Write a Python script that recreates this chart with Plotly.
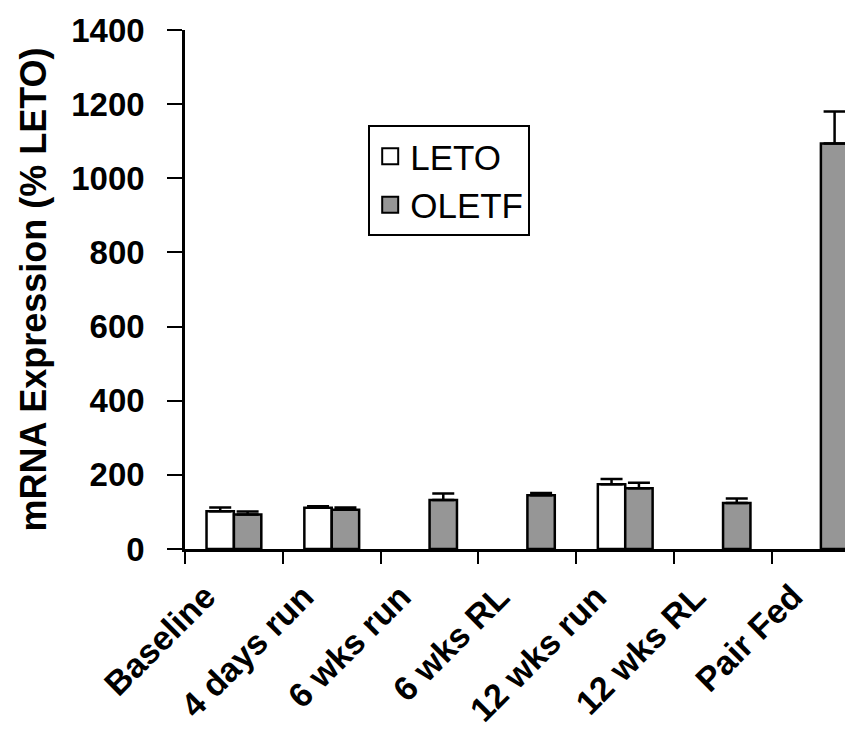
import plotly.graph_objects as go

categories = ["Baseline", "4 days run", "6 wks run", "6 wks RL", "12 wks run", "12 wks RL", "Pair Fed"]
leto_values = [102, 111, None, None, 175, None, None]
leto_errors = [10, 4, 0, 0, 14, 0, 0]
oletf_values = [93, 106, 132, 145, 164, 124, 1094]
oletf_errors = [8, 6, 18, 6, 15, 12, 86]
y_ticks = [0, 200, 400, 600, 800, 1000, 1200, 1400]

FAM = "Liberation Sans, Arial, sans-serif"
tick_font = dict(family=FAM, size=33, color="black", weight="bold")
xlab_font = dict(family=FAM, size=34, color="black", weight="bold")

fig = go.Figure()
fig.add_trace(go.Bar(
    x=categories, y=leto_values, name="LETO", showlegend=False,
    marker=dict(color="white", line=dict(color="black", width=2.5)),
    error_y=dict(type="data", symmetric=False, array=leto_errors,
                 arrayminus=[0] * len(leto_errors), color="black", thickness=2.5, width=11),
))
fig.add_trace(go.Bar(
    x=categories, y=oletf_values, name="OLETF", showlegend=False,
    marker=dict(color="#969696", line=dict(color="black", width=2.5)),
    error_y=dict(type="data", symmetric=False, array=oletf_errors,
                 arrayminus=[0] * len(oletf_errors), color="black", thickness=2.5, width=11),
))
# legend entries
for name, col in [("LETO", "white"), ("OLETF", "#969696")]:
    fig.add_trace(go.Scatter(
        x=[None], y=[None], mode="markers", name=name,
        marker=dict(symbol="square", size=16, color=col, line=dict(color="black", width=2)),
    ))

# rotated category labels
for cat in categories:
    fig.add_annotation(
        x=cat, xref="x", y=0, yref="paper", text=cat, showarrow=False,
        textangle=-45, xanchor="right", yanchor="top", xshift=-10, yshift=-27,
        borderpad=0, font=xlab_font,
    )

fig.update_layout(
    width=853, height=731,
    margin=dict(l=177, r=0, t=22, b=190),
    paper_bgcolor="white", plot_bgcolor="white",
    barmode="group", bargap=0.44, bargroupgap=0,
    showlegend=True,
    legend=dict(x=0.271, y=0.817, xanchor="left", yanchor="top",
                bordercolor="black", borderwidth=2, bgcolor="white",
                font=dict(family=FAM, size=35, color="black"),
                itemsizing="trace", itemwidth=30),
    xaxis=dict(range=[-0.5, 6.41], showline=True, linecolor="black", linewidth=2.5,
               ticks="outside", tickson="boundaries", ticklen=12, tickwidth=2, tickcolor="black",
               showticklabels=False, showgrid=False, zeroline=False, automargin=False),
    yaxis=dict(range=[0, 1400], tickvals=y_ticks, showline=True, linecolor="black", linewidth=2.5,
               ticks="outside", ticklen=15, tickwidth=2, tickcolor="black",
               tickfont=tick_font, showgrid=False, zeroline=False, automargin=False,
               ticklabelstandoff=16,
               title=dict(text="mRNA Expression (% LETO)",
                          font=dict(family=FAM, size=36, color="black", weight="bold"), standoff=14)),
)

fig.write_html("out.html")
